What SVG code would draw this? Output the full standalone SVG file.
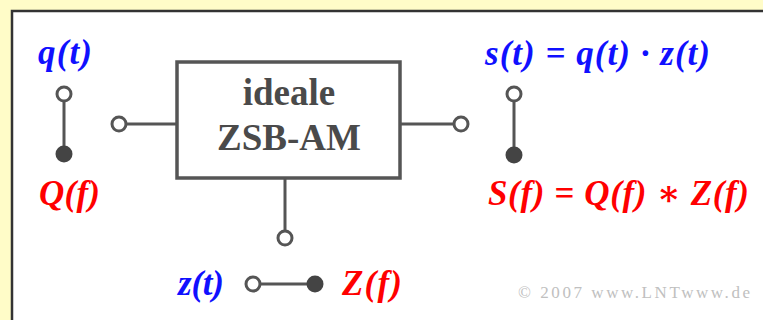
<svg xmlns="http://www.w3.org/2000/svg" width="763" height="320" viewBox="0 0 763 320">
  <style>
    .wire { stroke: #555; stroke-width: 3; fill: none; }
    .open { fill: #fff; stroke: #555; stroke-width: 3; }
    .dot { fill: #444; }
    .box { fill: #fff; stroke: #555; stroke-width: 3.5; }
    .title { font-family: 'Liberation Serif', 'DejaVu Serif', serif; font-weight: bold; font-size: 37px; fill: #4a4a4a; text-anchor: middle; }
    .sig { font-family: 'Liberation Serif', 'DejaVu Serif', serif; font-weight: bold; font-style: italic; font-size: 35px; }
    .time { fill: #1010ff; }
    .freq { fill: #ff0000; }
    .copy { font-family: 'Liberation Serif', 'DejaVu Serif', serif; font-size: 17px; fill: #c0c0c0; }
  </style>

  <!-- page background and framed white panel -->
  <rect x="0" y="0" width="763" height="320" fill="#fffcc8"/>
  <rect x="12" y="11" width="760" height="320" fill="#fff" stroke="#333" stroke-width="2.5"/>

  <!-- connecting wires -->
  <g id="connectors">
    <line class="wire" x1="64" y1="94" x2="64" y2="154"/>
    <line class="wire" x1="119" y1="124" x2="177" y2="124"/>
    <line class="wire" x1="400" y1="124" x2="461" y2="124"/>
    <line class="wire" x1="514" y1="94" x2="514" y2="155"/>
    <line class="wire" x1="285" y1="178" x2="285" y2="238"/>
    <line class="wire" x1="253" y1="284" x2="315" y2="284"/>
  </g>

  <!-- modulator block -->
  <g id="modulator">
    <rect class="box" x="177" y="62" width="223" height="116"/>
    <text class="title" x="289" y="105">ideale</text>
    <text class="title" x="289" y="150">ZSB-AM</text>
  </g>

  <!-- source signal terminal -->
  <g id="source">
    <circle class="open" cx="64" cy="94" r="7"/>
    <circle class="dot" cx="64" cy="154" r="8.5"/>
    <circle class="open" cx="119" cy="124" r="7"/>
    <text class="sig time" x="38" y="64" textLength="54" lengthAdjust="spacing">q(t)</text>
    <text class="sig freq" x="39" y="205" textLength="61" lengthAdjust="spacing">Q(f)</text>
  </g>

  <!-- output signal terminal -->
  <g id="output">
    <circle class="open" cx="461" cy="124" r="7"/>
    <circle class="open" cx="514" cy="94" r="7"/>
    <circle class="dot" cx="514" cy="155" r="8.5"/>
    <text class="sig time" x="485" y="65" textLength="225" lengthAdjust="spacing">s(t) = q(t) · z(t)</text>
    <text class="sig freq" x="488" y="205" textLength="261" lengthAdjust="spacing">S(f) = Q(f) ∗ Z(f)</text>
  </g>

  <!-- carrier terminal -->
  <g id="carrier">
    <circle class="open" cx="285" cy="238" r="7"/>
    <circle class="open" cx="253" cy="284" r="7"/>
    <circle class="dot" cx="315" cy="284" r="8.5"/>
    <text class="sig time" x="178" y="295" textLength="46" lengthAdjust="spacing">z(t)</text>
    <text class="sig freq" x="342" y="295" textLength="60" lengthAdjust="spacing">Z(f)</text>
  </g>

  <text class="copy" x="518" y="298" textLength="232" lengthAdjust="spacing">© 2007 www.LNTwww.de</text>
</svg>
